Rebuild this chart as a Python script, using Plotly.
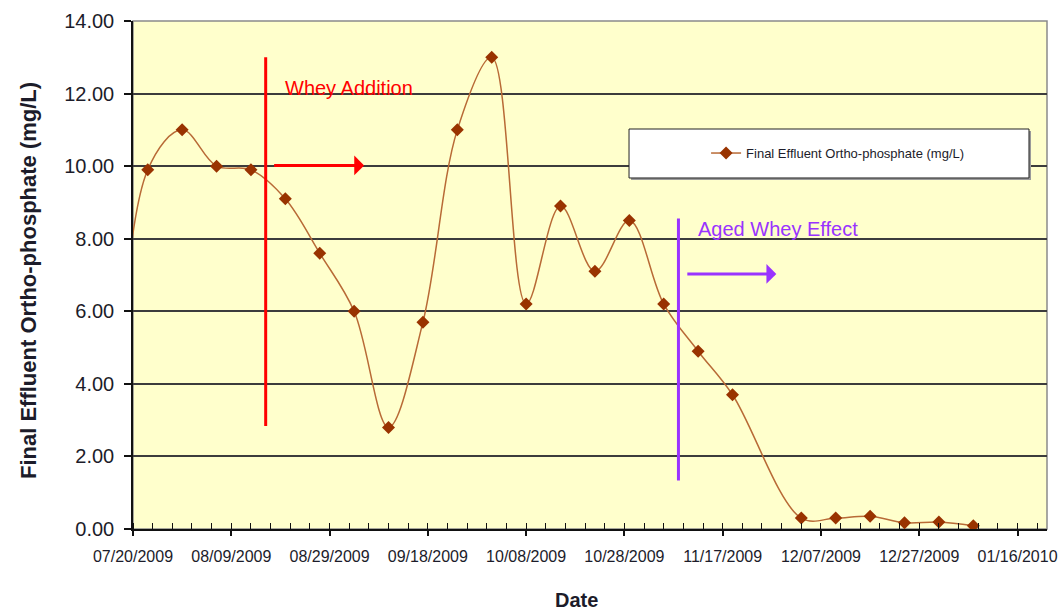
import plotly.graph_objects as go

# ---------------- data ----------------
dates = [
    "2009-07-16", "2009-07-23", "2009-07-30", "2009-08-06", "2009-08-13", "2009-08-20",
    "2009-08-27", "2009-09-03", "2009-09-10", "2009-09-17", "2009-09-24", "2009-10-01",
    "2009-10-08", "2009-10-15", "2009-10-22", "2009-10-29", "2009-11-05", "2009-11-12",
    "2009-11-19", "2009-12-03", "2009-12-10", "2009-12-17", "2009-12-24", "2009-12-31",
    "2010-01-07",
]
values = [
    0.8, 9.9, 11.0, 10.0, 9.9, 9.1,
    7.6, 6.0, 2.8, 5.7, 11.0, 13.0,
    6.2, 8.9, 7.1, 8.5, 6.2, 4.9,
    3.7, 0.3, 0.3, 0.35, 0.17, 0.19,
    0.09,
]
series_name = "Final Effluent Ortho-phosphate (mg/L)"

x_range = ["2009-07-20", "2010-01-22"]
y_range = [0, 14]

# annotation anchors (event markers)
whey_line_x = "2009-08-16"
whey_line_y = [2.84, 13.0]
whey_arrow_x = ["2009-08-17 10:00", "2009-09-05 01:00"]
whey_arrow_y = 10.02
whey_text = "Whey Addition"
whey_text_pos = ("2009-08-19 12:00", 12.14)

aged_line_x = "2009-11-08"
aged_line_y = [1.34, 8.56]
aged_arrow_x = ["2009-11-09 12:00", "2009-11-27 22:00"]
aged_arrow_y = 7.03
aged_text = "Aged Whey Effect"
aged_text_pos = ("2009-11-11 14:00", 8.27)

FONT = "Liberation Sans, Arial, sans-serif"
RED = "#FF0000"
PURPLE = "#9933FF"
TXT = "#1c1c2a"

fig = go.Figure()
fig.add_trace(go.Scatter(
    x=dates, y=values, mode="lines+markers", name=series_name,
    line=dict(color="#B86A36", width=1.5, shape="spline", smoothing=1.0),
    marker=dict(symbol="diamond", size=10, color="#993300"),
))

shapes = [
    dict(type="rect", xref="paper", yref="paper", x0=0, x1=1, y0=0, y1=1,
         line=dict(color="#8a8a8a", width=1.5), layer="below"),
    dict(type="rect", xref="paper", yref="paper",
         x0=0.5427 + 0.0022, x1=0.9803 + 0.0022, y0=0.691 - 0.0039, y1=0.7874 - 0.0039,
         line=dict(width=0), fillcolor="#9a9a9a", layer="above"),
    dict(type="rect", xref="paper", yref="paper",
         x0=0.5427, x1=0.9803, y0=0.691, y1=0.7874,
         line=dict(color="#222222", width=1), fillcolor="white", layer="above"),
    dict(type="line", xref="x", yref="y", x0=whey_line_x, x1=whey_line_x,
         y0=whey_line_y[0], y1=whey_line_y[1], line=dict(color=RED, width=3)),
    dict(type="line", xref="x", yref="y", x0=aged_line_x, x1=aged_line_x,
         y0=aged_line_y[0], y1=aged_line_y[1], line=dict(color=PURPLE, width=3)),
]

annotations = [
    dict(x=whey_arrow_x[1], y=whey_arrow_y, ax=whey_arrow_x[0], ay=whey_arrow_y,
         xref="x", yref="y", axref="x", ayref="y", text="", showarrow=True,
         arrowhead=1, arrowsize=1.1, arrowwidth=3, arrowcolor=RED, standoff=0),
    dict(x=aged_arrow_x[1], y=aged_arrow_y, ax=aged_arrow_x[0], ay=aged_arrow_y,
         xref="x", yref="y", axref="x", ayref="y", text="", showarrow=True,
         arrowhead=1, arrowsize=1.1, arrowwidth=3, arrowcolor=PURPLE, standoff=0),
    dict(x=whey_text_pos[0], y=whey_text_pos[1], xref="x", yref="y", text=whey_text,
         showarrow=False, xanchor="left", yanchor="middle",
         font=dict(family=FONT, size=20, color=RED)),
    dict(x=aged_text_pos[0], y=aged_text_pos[1], xref="x", yref="y", text=aged_text,
         showarrow=False, xanchor="left", yanchor="middle",
         font=dict(family=FONT, size=20, color=PURPLE)),
    dict(x=0.4847, y=-0.1398, xref="paper", yref="paper", text="<b>Date</b>",
         showarrow=False, xanchor="center", yanchor="middle",
         font=dict(family=FONT, size=20, color=TXT)),
    dict(x=-0.1149, y=0.490, xref="paper", yref="paper", text="<b>" + series_name + "</b>",
         showarrow=False, xanchor="center", yanchor="middle", textangle=-90,
         font=dict(family=FONT, size=22, color=TXT)),
]

fig.update_layout(
    width=1062, height=610,
    margin=dict(l=133, r=15, t=21, b=81),
    paper_bgcolor="white",
    plot_bgcolor="#FFFFCC",
    font=dict(family=FONT, color=TXT),
    shapes=shapes,
    annotations=annotations,
    showlegend=True,
    legend=dict(x=0.627, y=0.740, xanchor="left", yanchor="middle",
                bgcolor="rgba(0,0,0,0)", borderwidth=0,
                font=dict(family=FONT, size=13, color=TXT)),
    xaxis=dict(
        type="date", range=x_range, tick0="2009-07-20", dtick=20 * 86400000,
        tickformat="%m/%d/%Y", showgrid=False, zeroline=False,
        showline=True, linecolor="#111111", linewidth=1.5,
        ticks="outside", ticklen=5, tickcolor="#111111", tickwidth=1.5,
        tickfont=dict(family=FONT, size=16, color=TXT),
        ticklabelstandoff=7,
        automargin=False,
        minor=dict(dtick=4 * 86400000, tick0="2009-07-20", ticks="inside",
                   ticklen=6, tickcolor="#111111", tickwidth=1, showgrid=False),
    ),
    yaxis=dict(
        range=y_range, dtick=2, tickformat=".2f",
        showgrid=True, gridcolor="#3c3c3c", gridwidth=1.5, zeroline=False,
        showline=True, linecolor="#111111", linewidth=1.5,
        ticks="outside", ticklen=7, tickcolor="#111111", tickwidth=1.5,
        tickfont=dict(family=FONT, size=20, color=TXT),
        ticklabelstandoff=6,
        automargin=False,
    ),
)

fig.write_html("out.html", config={"displayModeBar": False},
               post_script="document.body.style.margin='0';document.body.style.overflow='hidden';")
